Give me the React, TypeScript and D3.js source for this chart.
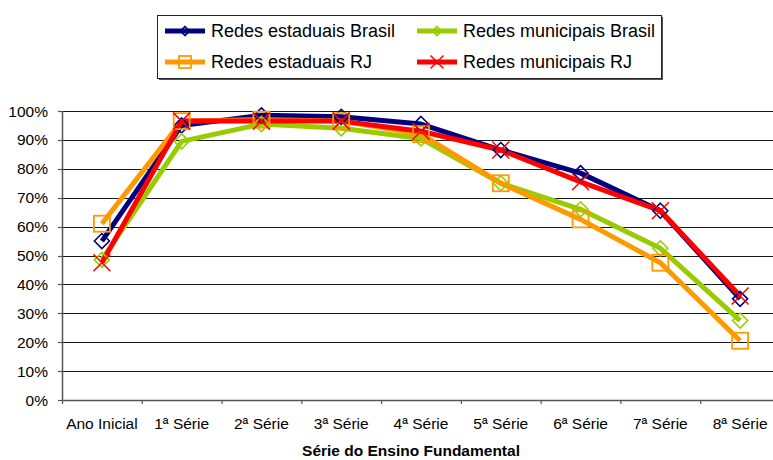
import React from "react";
import * as d3 from "d3";

const categories = ["Ano Inicial", "1ª Série", "2ª Série", "3ª Série", "4ª Série", "5ª Série", "6ª Série", "7ª Série", "8ª Série"];
const estaduaisBrasil = [55, 95, 98.5, 98, 95.5, 86.5, 78.5, 65.5, 35];
const municipaisBrasil = [48.5, 89.5, 95.5, 94, 90.5, 75, 66, 52.5, 27.5];
const estaduaisRJ = [61, 96.5, 97, 96.5, 92, 75, 62.5, 47.5, 20.5];
const municipaisRJ = [47.5, 96.5, 96.5, 96.5, 93, 86.5, 75.5, 65.5, 36];
const yTicks = [0, 10, 20, 30, 40, 50, 60, 70, 80, 90, 100];

type Marker = "diamond" | "square" | "x";
const series: { name: string; values: number[]; color: string; marker: Marker }[] = [
  { name: "Redes estaduais Brasil", values: estaduaisBrasil, color: "#000080", marker: "diamond" },
  { name: "Redes municipais Brasil", values: municipaisBrasil, color: "#99CC00", marker: "diamond" },
  { name: "Redes estaduais RJ", values: estaduaisRJ, color: "#FF9900", marker: "square" },
  { name: "Redes municipais RJ", values: municipaisRJ, color: "#FF0000", marker: "x" },
];

const FONT = "'Liberation Sans', Arial, sans-serif";

function MarkerShape({ type, cx, cy, color, s }: { type: Marker; cx: number; cy: number; color: string; s: number }) {
  if (type === "diamond") {
    const h = s / 2;
    return (
      <path d={`M${cx},${cy - h}L${cx + h},${cy}L${cx},${cy + h}L${cx - h},${cy}Z`} fill="none" stroke={color} strokeWidth={1.6} />
    );
  }
  if (type === "square") {
    const h = s / 2;
    return <rect x={cx - h} y={cy - h} width={s} height={s} fill="none" stroke={color} strokeWidth={1.8} />;
  }
  const h = s / 2;
  return (
    <path d={`M${cx - h},${cy - h}L${cx + h},${cy + h}M${cx - h},${cy + h}L${cx + h},${cy - h}`} stroke={color} strokeWidth={1.5} fill="none" />
  );
}

export default function App() {
  const W = 773;
  const H = 460;
  const left = 62;
  const right = 780;
  const top = 111;
  const bottom = 400;

  const x = d3.scaleBand<string>().domain(categories).range([left, right]);
  const y = d3.scaleLinear().domain([0, 100]).range([bottom, top]);
  const cx = (c: string) => (x(c) as number) + x.bandwidth() / 2;

  const line = d3
    .line<number>()
    .x((_, i) => cx(categories[i]))
    .y((v) => y(v));

  const markerSize: Record<Marker, number> = { diamond: 15, square: 16, x: 17 };
  const legendMarkerSize: Record<Marker, number> = { diamond: 9, square: 12, x: 13 };

  const legendPos = [
    { x: 165, y: 31 },
    { x: 417, y: 31 },
    { x: 165, y: 62 },
    { x: 417, y: 62 },
  ];

  return (
    <svg width={W} height={H} style={{ position: "fixed", left: 0, top: 0, background: "#fff" }} fontFamily={FONT}>
      <rect x={0} y={0} width={W} height={H} fill="#fff" />
      {/* gridlines */}
      {yTicks.map((t) => (
        <line key={t} x1={left} x2={W} y1={Math.round(y(t)) + 0.5} y2={Math.round(y(t)) + 0.5} stroke="#1a1a1a" strokeWidth={1.2} />
      ))}
      {/* y axis */}
      <line x1={left + 0.5} x2={left + 0.5} y1={top} y2={bottom + 1} stroke="#555" strokeWidth={1.5} />
      {yTicks.map((t) => (
        <g key={"yt" + t}>
          <line x1={left - 4} x2={left} y1={Math.round(y(t)) + 0.5} y2={Math.round(y(t)) + 0.5} stroke="#555" strokeWidth={1.2} />
          <text x={48} y={y(t)} dy="0.36em" textAnchor="end" fontSize={15.5} fill="#000">
            {t}%
          </text>
        </g>
      ))}
      {/* x axis */}
      <line x1={left} x2={W} y1={bottom + 0.5} y2={bottom + 0.5} stroke="#555" strokeWidth={1.6} />
      {categories.map((c, i) => (
        <g key={c}>
          <line x1={(x(c) as number) + 0.5} x2={(x(c) as number) + 0.5} y1={bottom} y2={bottom + 4} stroke="#555" strokeWidth={1.2} />
          {i === categories.length - 1 && (
            <line x1={(x(c) as number) + x.bandwidth()} x2={(x(c) as number) + x.bandwidth()} y1={bottom} y2={bottom + 4} stroke="#555" />
          )}
          <text x={cx(c)} y={429} textAnchor="middle" fontSize={15.5} fill="#000">
            {c}
          </text>
        </g>
      ))}
      <text x={411} y={456} textAnchor="middle" fontSize={15.5} fontWeight="bold" fill="#000">
        Série do Ensino Fundamental
      </text>
      {/* lines */}
      {series.map((s) => (
        <path key={s.name} d={line(s.values) as string} fill="none" stroke={s.color} strokeWidth={5} strokeLinejoin="round" />
      ))}
      {/* markers */}
      {series.map((s) => (
        <g key={"m" + s.name}>
          {s.values.map((v, i) => (
            <MarkerShape key={i} type={s.marker} cx={cx(categories[i])} cy={y(v)} color={s.color} s={markerSize[s.marker]} />
          ))}
        </g>
      ))}
      {/* legend */}
      <rect x={159} y={17} width={504} height={63} fill="#555" />
      <rect x={157.5} y={15.5} width={504} height={63} fill="#fff" stroke="#222" strokeWidth={1} />
      {series.map((s, i) => {
        const p = legendPos[i];
        return (
          <g key={"l" + s.name}>
            <line x1={p.x} x2={p.x + 40} y1={p.y} y2={p.y} stroke={s.color} strokeWidth={5} />
            <MarkerShape type={s.marker} cx={p.x + 20} cy={p.y} color={s.color} s={legendMarkerSize[s.marker]} />
            <text x={p.x + 46} y={p.y} dy="0.36em" fontSize={18} fill="#000">
              {s.name}
            </text>
          </g>
        );
      })}
    </svg>
  );
}
